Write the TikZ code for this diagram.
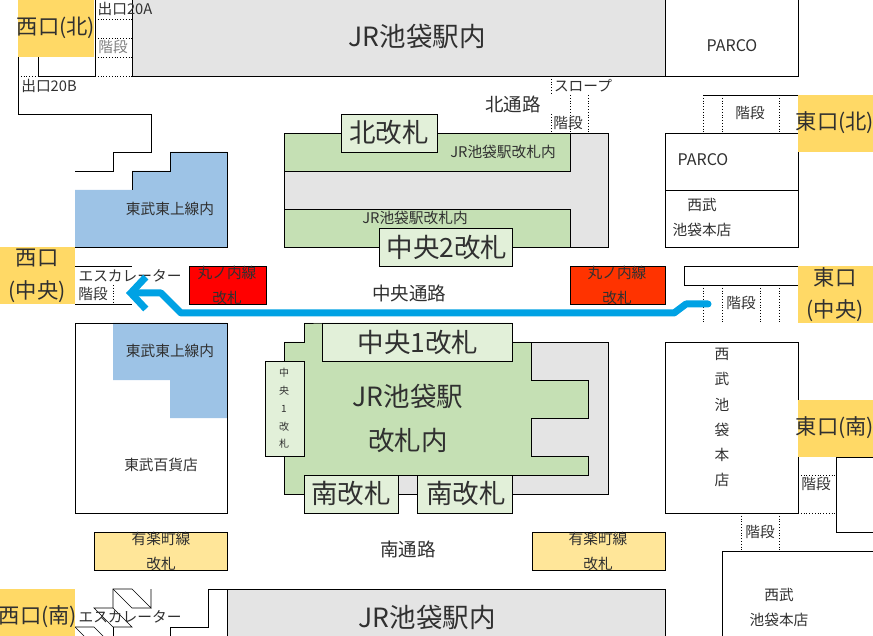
\documentclass[tikz,border=0pt]{standalone}
\usepackage{fontspec}
\setmainfont{Noto Sans CJK JP}
\usetikzlibrary{arrows.meta}
\definecolor{exitcol}{HTML}{FFD966}
\definecolor{jrcol}{HTML}{C5E0B4}
\definecolor{gatecol}{HTML}{E2F0D9}
\definecolor{tobucol}{HTML}{9DC3E6}
\definecolor{greycol}{HTML}{E4E4E4}
\definecolor{yucol}{HTML}{FFE699}
\definecolor{routecol}{HTML}{00A2E4}
\definecolor{textcol}{HTML}{303030}
\tikzset{
    wall/.style={draw=black, line width=0.9pt},
    stairline/.style={draw=black, line width=0.8pt, dotted},
    lbl/.style={inner sep=0pt, text=textcol, font=\fontsize{14.7}{14.7}\selectfont},
    biglbl/.style={lbl, font=\fontsize{21.3}{21.3}\selectfont},
    midlbl/.style={lbl, font=\fontsize{18.5}{18.5}\selectfont},
    hugelbl/.style={lbl, font=\fontsize{26.5}{26.5}\selectfont},
    tinylbl/.style={lbl, font=\fontsize{10}{10}\selectfont}
}
\begin{document}
\begin{tikzpicture}[x=1pt, y=-1pt]
    \useasboundingbox (0,0) rectangle (873,636);

    % top band
    \draw[wall, fill=greycol] (132,-2) rectangle (665,76);
    \draw[wall] (665,-2) rectangle (798,76);
    \draw[wall] (95,-2) -- (95,76) -- (38,76) -- (38,57);
    \draw[wall] (18,57) -- (18,114) -- (151,114) -- (151,152) -- (113,152) -- (113,171) -- (75,171);
    \draw[stairline] (95,19) -- (132,19);
    \draw[stairline] (95,38) -- (132,38);
    \draw[stairline] (95,57) -- (132,57);
    \draw[stairline] (95,76) -- (132,76);
    \draw[stairline] (18,76) -- (38,76);
    \node[hugelbl] (jrtop) at (417,36) {JR池袋駅内};
    \node[lbl, font=\fontsize{16}{16}\selectfont] (parcotop) at (732,46) {PARCO};
    \node[lbl] (exit20a) at (125,9) {出口20A};
    \node[lbl, text=gray] (stairnw) at (113,47) {階段};
    \node[lbl] (exit20b) at (49,86) {出口20B};

    % tobu, north side
    \fill[tobucol] (75,190) -- (132,190) -- (132,171) -- (170,171) -- (170,152) -- (227,152) -- (227,247) -- (75,247) -- cycle;
    \draw[wall] (132,190) -- (132,171) -- (170,171) -- (170,152) -- (227,152) -- (227,247) -- (75,247);
    \node[lbl] (tobunorth) at (170,209) {東武東上線内};

    % west central
    \draw[wall, line width=0.7pt] (75,266) -- (132,266);
    \draw[wall, line width=0.7pt] (75,304) -- (132,304);
    \draw[stairline] (113,285) -- (113,304);
    \node[lbl] (escwest) at (130,276) {エスカレーター};
    \node[lbl] (stairwest) at (93,294) {階段};
    \draw[wall, fill=red] (189,266) rectangle (266,304);
    \node[lbl] (marunowest) at (227,273) {丸ノ内線};
    \node[lbl] (marunowestb) at (227,298) {改札};

    % north ticket area
    \draw[wall, fill=greycol] (284,133) rectangle (608,247);
    \draw[wall, fill=jrcol] (284,133) rectangle (570,171);
    \draw[wall, fill=jrcol] (284,209) rectangle (570,247);
    \draw[wall, fill=gatecol] (341,114) rectangle (437,152);
    \draw[wall, fill=gatecol] (379,228) rectangle (512,266);
    \node[hugelbl] (northgate) at (389,132) {北改札};
    \node[hugelbl] (gate2) at (447,247) {中央2改札};
    \node[lbl] (jrnorth) at (503,152) {JR池袋駅改札内};
    \node[lbl] (jrmid) at (415,218) {JR池袋駅改札内};
    \node[midlbl] (northway) at (513,104) {北通路};
    \node[lbl] (slope) at (583,86) {スロープ};
    \draw[stairline] (551,76) -- (551,95);
    \draw[stairline] (551,114) -- (551,133);
    \draw[stairline] (570,95) -- (570,133);
    \draw[stairline] (588,95) -- (588,133);
    \node[lbl] (stairnorth) at (568,123) {階段};

    % east side
    \draw[wall] (665,133) rectangle (798,190);
    \draw[wall] (665,190) rectangle (798,247);
    \draw[wall, line width=0.7pt] (703,95) -- (798,95);
    \draw[stairline] (703,95) -- (703,133);
    \draw[stairline] (722,95) -- (722,133);
    \draw[stairline] (779,95) -- (779,133);
    \node[lbl] (stairne) at (750,113) {階段};
    \node[lbl, font=\fontsize{16}{16}\selectfont] (parco) at (703,160) {PARCO};
    \node[lbl] (seibua) at (702,205) {西武};
    \node[lbl] (seibub) at (702,230) {池袋本店};
    \draw[wall, fill={rgb,255:red,255;green,51;blue,0}] (570,266) rectangle (665,304);
    \node[lbl] (marunoeast) at (617,273) {丸ノ内線};
    \node[lbl] (marunoeastb) at (617,298) {改札};
    \draw[wall] (798,285) -- (684,285) -- (684,266) -- (798,266);
    \draw[stairline] (703,285) -- (703,323);
    \draw[stairline] (722,285) -- (722,323);
    \draw[stairline] (760,285) -- (760,323);
    \draw[stairline] (779,285) -- (779,323);
    \node[lbl] (staireast) at (741,303) {階段};

    % tobu, south side
    \fill[tobucol] (113,323) -- (227,323) -- (227,418) -- (170,418) -- (170,380) -- (113,380) -- cycle;
    \draw[wall] (75,323) rectangle (227,513);
    \node[lbl] (tobusouth) at (170,351) {東武東上線内};
    \node[lbl] (tobustore) at (161,465) {東武百貨店};

    % south ticket area
    \draw[wall, fill=greycol] (304,342) rectangle (608,494);
    \draw[wall, fill=jrcol] (304,323) -- (322,323) -- (512,323) -- (512,342) -- (531,342) -- (531,380) -- (588,380) -- (588,418) -- (531,418) -- (531,456) -- (588,456) -- (588,475) -- (398,475) -- (398,494) -- (284,494) -- (284,342) -- (304,342) -- cycle;
    \draw[wall, fill=gatecol] (322,323) rectangle (512,361);
    \draw[wall, fill=gatecol] (265,361) rectangle (304,456);
    \draw[wall, fill=gatecol] (304,475) rectangle (398,513);
    \draw[wall, fill=gatecol] (417,475) rectangle (512,513);
    \node[hugelbl] (gate1) at (418,342) {中央1改札};
    \node[tinylbl] (sidea) at (284,373) {中};
    \node[tinylbl] (sideb) at (284,391) {央};
    \node[tinylbl] (sidec) at (284,409) {1};
    \node[tinylbl] (sided) at (284,427) {改};
    \node[tinylbl] (sidee) at (284,444) {札};
    \node[hugelbl] (jrmain) at (408,396) {JR池袋駅};
    \node[hugelbl] (jrmainb) at (408,440) {改札内};
    \node[hugelbl] (southgatea) at (351,493) {南改札};
    \node[hugelbl] (southgateb) at (466,493) {南改札};
    \node[midlbl] (centreway) at (409,293) {中央通路};

    % seibu block, south east
    \draw[wall] (665,342) rectangle (798,513);
    \foreach \ch/\ypos in {西/354, 武/379, 池/405, 袋/430, 本/455, 店/480}
        \node[lbl] at (722,\ypos) {\ch};
    \draw[wall] (873,457) -- (836,457) -- (836,532) -- (873,532);
    \draw[stairline] (798,475) -- (836,475);
    \draw[stairline] (798,513) -- (836,513);
    \node[lbl] (stairse) at (816,484) {階段};
    \draw[stairline] (741,513) -- (741,551);
    \draw[stairline] (779,513) -- (779,551);
    \node[lbl] (stairs) at (760,532) {階段};
    \draw[wall] (873,551) -- (722,551) -- (722,638);
    \node[lbl] (seibuc) at (779,595) {西武};
    \node[lbl] (seibud) at (779,620) {池袋本店};

    % south band
    \draw[wall, fill=yucol] (94,532) rectangle (227,570);
    \draw[wall, fill=yucol] (532,532) rectangle (665,570);
    \node[lbl] (yua) at (161,539) {有楽町線};
    \node[lbl] (yub) at (161,564) {改札};
    \node[lbl] (yuc) at (598,539) {有楽町線};
    \node[lbl] (yud) at (598,564) {改札};
    \node[midlbl] (southway) at (408,549) {南通路};
    \draw[wall, fill=greycol] (227,589) rectangle (665,638);
    \draw[wall] (227,589) -- (208,589) -- (208,627) -- (170,627) -- (170,638);
    \node[hugelbl] (jrbottom) at (427,617) {JR池袋駅内};
    \draw[wall, line width=0.7pt] (113,608) -- (113,589) -- (132,589) -- (151,608) -- (151,589);
    \draw[wall, line width=0.7pt] (113,589) -- (132,608) -- (151,608);
    \draw[wall, line width=0.7pt] (113,608) -- (94,608) -- (113,627) -- (132,627) -- (113,608);
    \draw[wall, line width=0.7pt] (113,638) -- (113,627);
    \draw[wall, line width=0.7pt] (75,627) -- (94,627) -- (105,638);
    \draw[wall, line width=0.7pt] (75,627) -- (86,638);
    \node[lbl] (escsouth) at (130,617) {エスカレーター};

    % exits
    \fill[exitcol] (18,-2) rectangle (94,57);
    \fill[exitcol] (-2,247) rectangle (75,304);
    \fill[exitcol] (-2,589) rectangle (75,638);
    \fill[exitcol] (798,95) rectangle (875,152);
    \fill[exitcol] (798,266) rectangle (875,323);
    \fill[exitcol] (798,400) rectangle (875,457);
    \node[biglbl] (exitnw) at (56,28) {西口(北)};
    \node[biglbl] (exitwa) at (37,258) {西口};
    \node[biglbl] (exitwb) at (37,292) {(中央)};
    \node[biglbl] (exitsw) at (38,617) {西口(南)};
    \node[biglbl] (exitne) at (835,123) {東口(北)};
    \node[biglbl] (exitea) at (835,277) {東口};
    \node[biglbl] (exiteb) at (835,311) {(中央)};
    \node[biglbl] (exitse) at (835,428) {東口(南)};

    % route
    \coordinate (routestart) at (708,304);
    \coordinate (routeend) at (126,293);
    \draw[routecol, line width=7pt, line cap=round, line join=round, -{Straight Barb[length=15pt, width=32pt, line width=7pt]}]
        (routestart) -- (686,304) -- (674,313) -- (181,313) -- (161,293) -- (routeend);
\end{tikzpicture}
\end{document}
